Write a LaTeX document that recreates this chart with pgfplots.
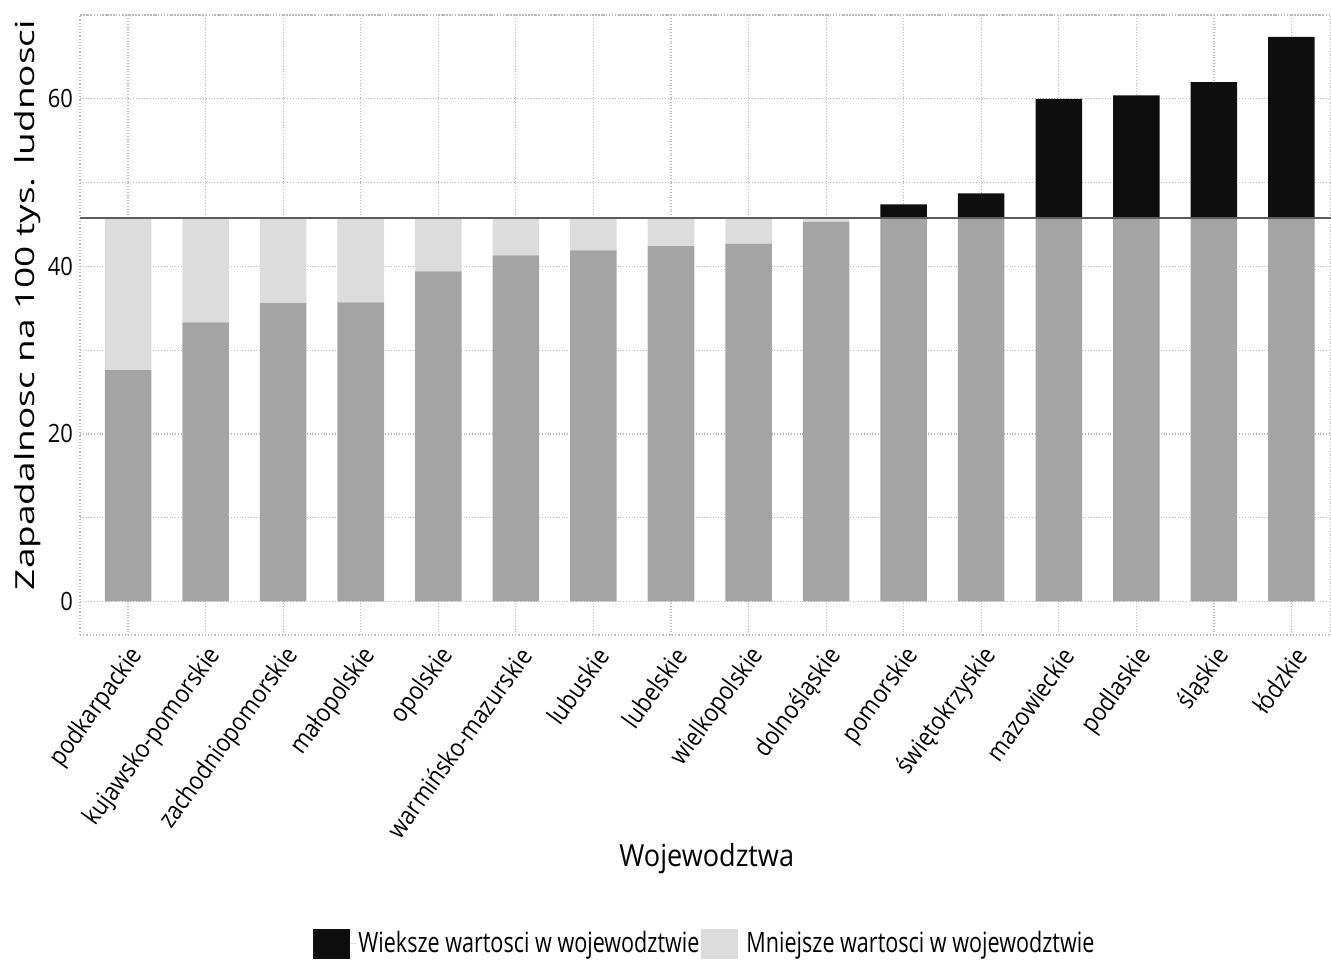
\documentclass[border=0pt]{standalone}
\usepackage{fontspec}
\setmainfont{Open Sans}
\newfontfamily\tickfont[FakeStretch=0.87]{Open Sans}
\newfontfamily\legfont[FakeStretch=0.77]{Open Sans}
\newfontfamily\labfont[FakeStretch=0.89]{Open Sans}
\usepackage{graphicx}
\usepackage{pgfplots}
\pgfplotsset{compat=1.18}

\definecolor{barbase}{HTML}{A4A4A4}
\definecolor{barlight}{HTML}{DCDCDC}
\definecolor{barhigh}{HTML}{0E0E0E}
\definecolor{avgline}{HTML}{5C5C5C}
\definecolor{gridc}{HTML}{B8B8B8}

\begin{document}
\begin{tikzpicture}
\begin{axis}[
    scale only axis,
    width=625.5pt, height=310pt,
    xmin=-0.62, xmax=15.51,
    ymin=-4, ymax=70,
    ybar stacked,
    bar width=0.6,
    xtick={0,...,15},
    xticklabels={podkarpackie, kujawsko-pomorskie, zachodniopomorskie, małopolskie, opolskie, warmińsko-mazurskie, lubuskie, lubelskie, wielkopolskie, dolnośląskie, pomorskie, świętokrzyskie, mazowieckie, podlaskie, śląskie, łódzkie},
    ytick={0,20,40,60},
    minor ytick={10,30,50,70},
    grid=both,
    major grid style={gridc, densely dotted, line width=0.6pt},
    minor grid style={gridc, densely dotted, line width=0.6pt},
    major tick length=0pt, minor tick length=0pt,
    axis line style={gridc, densely dotted, line width=0.6pt},
    /pgf/number format/assume math mode=true,
    yticklabel style={font=\tickfont\fontsize{12.6}{14}\selectfont},
    xticklabel style={font=\tickfont\fontsize{12.7}{14}\selectfont, inner sep=0pt,
        anchor=east, xshift=5pt, yshift=-8pt, rotate=54},
    xlabel={Wojewodztwa},
    xlabel style={at={(axis description cs:0.501,-0.36)}, anchor=center,
        font=\labfont\fontsize{15.2}{17}\selectfont},
    ylabel={\scalebox{1}[0.71]{Zapadalnosc na 100 tys. ludnosci}},
    ylabel style={at={(axis description cs:-0.0416,0.532)}, anchor=center,
        font=\fontsize{18.5}{20}\selectfont},
    reverse legend=true,
    legend columns=2,
    legend style={at={(axis description cs:0.4995,-0.498)}, anchor=center,
        draw=none, fill=none, nodes={inner xsep=1pt},
        font=\legfont\fontsize{14}{16}\selectfont},
    legend image code/.code={
        \fill[#1] (0pt,-7.5pt) rectangle (18.5pt,7.5pt);
        \path (0pt,0pt) -- (21.5pt,0pt);},
]
% part of each bar up to min(value, average)
\addplot[fill=barbase, draw=none, forget plot] coordinates {
    (0,27.6) (1,33.3) (2,35.6) (3,35.7) (4,39.4) (5,41.3) (6,41.9) (7,42.4)
    (8,42.7) (9,45.3) (10,45.8) (11,45.8) (12,45.8) (13,45.8) (14,45.8) (15,45.8)};
% gap between value and average
\addplot[fill=barlight, draw=none] coordinates {
    (0,18.2) (1,12.5) (2,10.2) (3,10.1) (4,6.4) (5,4.5) (6,3.9) (7,3.4)
    (8,3.1) (9,0.5) (10,0) (11,0) (12,0) (13,0) (14,0) (15,0)};
\addlegendentry{Mniejsze wartosci w wojewodztwie}
% excess above average
\addplot[fill=barhigh, draw=none] coordinates {
    (0,0) (1,0) (2,0) (3,0) (4,0) (5,0) (6,0) (7,0)
    (8,0) (9,0) (10,1.6) (11,2.9) (12,14.2) (13,14.6) (14,16.2) (15,21.6)};
\addlegendentry{Wieksze wartosci w wojewodztwie}
\end{axis}

% average line, in an overlaid axis so it is not stacked
\begin{axis}[
    scale only axis,
    width=625.5pt, height=310pt,
    xmin=-0.62, xmax=15.51,
    ymin=-4, ymax=70,
    hide axis,
]
\addplot[avgline, line width=1pt] coordinates {(-0.62,45.8) (15.51,45.8)};
\end{axis}

\pgfresetboundingbox
\path (current axis.south west) ++(-40pt,-166pt) rectangle ++(665.5pt,483.5pt);
\end{tikzpicture}
\end{document}
